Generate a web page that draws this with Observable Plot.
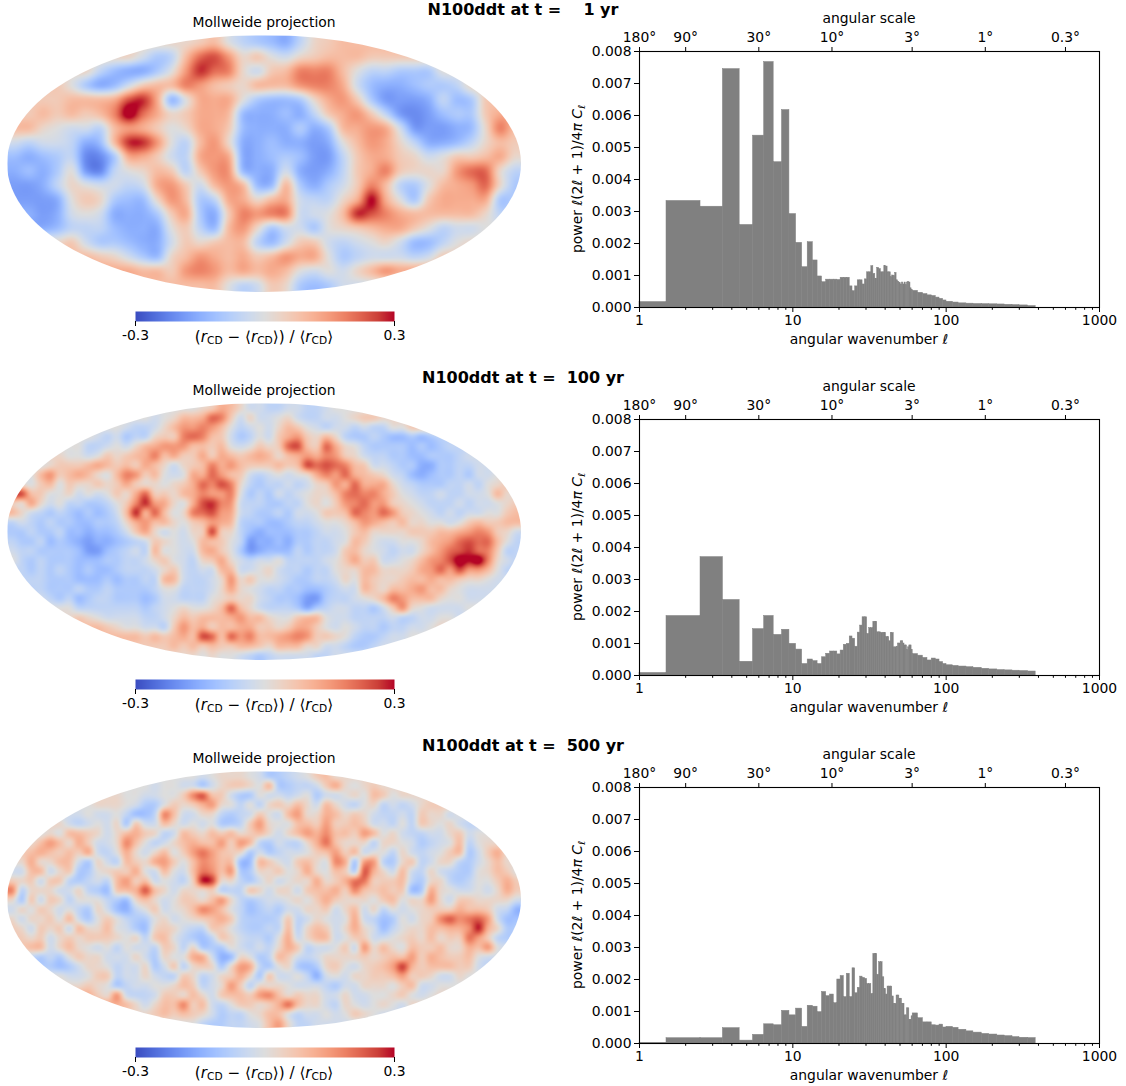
<!DOCTYPE html>
<html><head><meta charset="utf-8">
<script src="https://cdn.jsdelivr.net/npm/d3@7"></script>
<script src="https://cdn.jsdelivr.net/npm/@observablehq/plot@0.6"></script>
<style>
html,body{margin:0;padding:0;background:#fff}
#page{position:relative;width:1126px;height:1086px;overflow:hidden;font-family:"DejaVu Sans",sans-serif;color:#000}
#page>*{position:absolute}
.t{white-space:pre;line-height:1.1}
.t sub{font-size:70%;line-height:0;vertical-align:-0.25em}
</style></head><body><div id="page"></div>
<script>
// ---------- map estimates, in mapUnits steps of (rCD-<rCD>)/<rCD>, rows top to bottom, columns centred
const map1Rows = [
[1,2,3,0,-2,-3,-4,-5,-2,1,2,3],
[1,-1,-3,-2,3,7,8,5,1,2,0,-1,1,2,3,3,3,2,2,2],
[1,-2,-4,-5,-5,-3,0,5,9,7,6,1,-1,2,3,6,6,6,3,0,-2,-2,-3,-3,-3,0],
[2,0,-3,-5,-4,-1,2,3,3,6,5,3,2,1,3,3,3,5,6,6,4,-1,-4,-5,-5,-4,-3,-3,-2,1],
[2,2,3,3,3,4,8,9,4,-4,0,4,4,4,0,-3,-4,-4,-3,1,4,5,2,-3,-6,-6,-6,-5,-2,-4,-3,2],
[2,3,2,3,2,3,6,11,7,4,1,2,4,4,3,-4,-5,-5,-4,-5,-2,2,4,5,2,-2,-6,-7,-6,-4,-3,-3,2,4],
[3,3,1,0,-1,-1,-2,3,5,4,2,0,1,4,4,2,-4,-5,-5,-5,-3,-5,-3,3,4,5,4,-1,-6,-6,-6,-5,-4,1,6,3],
[-1,-2,-1,-1,-2,-5,-4,3,9,9,5,0,-2,3,5,1,-5,-5,-4,-5,-5,-6,-5,0,3,5,4,1,-2,-5,-5,-4,-2,1,3,2],
[-4,-5,-4,-3,-2,-7,-7,-3,4,4,2,-1,-2,4,5,4,-5,-5,-4,-3,-4,-6,-6,-2,2,4,4,2,1,-1,0,2,2,3,4,1],
[-5,-4,-5,-3,0,-6,-7,-2,0,1,3,2,-2,2,5,5,-4,-5,-5,-1,-5,-6,-5,-2,2,4,6,2,1,1,1,5,7,7,1,-2],
[-6,-6,-5,-2,1,0,-1,-1,-2,-1,4,5,2,-1,3,5,3,-4,-4,3,-3,-5,-3,-1,2,6,3,-2,-3,0,3,4,5,7,1,-3],
[-6,-6,-5,0,2,1,-3,-4,-4,1,5,3,-3,-2,4,4,1,3,4,-1,-2,-2,1,4,10,4,0,-3,2,4,4,4,4,-3],
[-5,-6,-5,-1,0,-1,-5,-5,-5,-3,2,4,-3,-5,2,6,5,6,6,-1,-1,0,3,9,8,6,4,3,3,3,3,3,1,-2],
[-5,-4,-2,-2,-2,-4,-5,-5,-5,0,2,-2,-4,3,5,1,-3,-1,-1,-3,0,1,2,3,4,4,2,0,-2,-1,-1,0],
[1,2,-1,-3,-3,-4,-5,-5,-1,2,1,2,3,3,-2,-4,-1,2,2,-1,-2,-1,0,1,-1,-4,-4,-2,0,1],
[3,2,1,-1,-3,-4,1,3,5,4,3,4,2,3,5,4,4,0,-3,-2,-1,-1,-1,-2,-1,2],
[4,3,3,2,5,6,5,3,4,3,4,3,0,-1,0,-1,1,3,5,4],
[3,3,3,0,-2,-1,2,1,-3,-4,-3,-1]
];
const map2Rows = [
[0,1,2,4,3,1,-1,-1,-2,-2,-1,-1,-2,-2,-1,0],
[0,-1,0,1,3,3,4,7,6,2,-1,1,-1,-1,0,1,-1,-2,-2,-1,-1,0,1,2,2,1],
[0,-1,-2,-2,-1,1,3,5,5,6,5,3,0,-2,-1,0,-1,1,3,2,0,-1,-2,-1,-1,-2,-1,-2,-2,0,0,2],
[0,-1,-2,-1,-3,-2,-2,1,2,2,6,7,6,3,2,-1,-3,-2,0,-1,2,4,5,2,1,3,1,-2,-3,-3,-2,-3,-4,-4,-3,-4,-3,-2],
[0,0,-2,-2,-1,0,-1,1,3,4,5,5,5,3,3,2,3,0,-1,0,2,1,2,7,8,3,2,7,4,1,0,-2,-3,-3,-3,-3,-4,-3,-4,-3,-2,-2],
[1,0,0,-1,0,2,1,2,3,4,6,3,4,2,2,4,2,4,3,2,3,4,3,1,3,4,5,4,6,5,2,1,-1,-2,-2,-3,-3,-4,-4,-3,-3,-3,-2,-1],
[0,1,2,2,2,3,4,3,2,3,2,4,3,1,-1,1,2,3,6,4,5,3,2,2,2,3,2,3,8,7,8,7,6,3,2,-1,-1,-2,-3,-3,-5,-5,-3,-3,-2,-2,-1,-1],
[0,3,5,2,3,4,3,1,0,3,6,5,2,3,0,-1,0,4,4,7,5,3,2,-1,-2,-1,0,-1,0,1,4,6,5,7,4,3,2,1,-1,-2,-4,-5,-4,-3,-3,-2,-3,-1,-1,0],
[1,0,2,3,0,2,1,1,2,1,2,4,2,1,1,0,1,2,4,7,6,8,6,1,-2,-3,-2,-2,-1,-2,-1,1,2,5,4,7,4,4,4,1,-1,-2,-3,-3,-3,-2,-2,-1,-2,0,1,2],
[8,3,2,0,0,1,-1,0,-1,0,2,1,4,7,2,2,1,3,4,6,5,5,6,0,-3,-2,-3,-1,-2,-1,0,1,1,3,6,7,6,6,4,2,0,-1,-2,-2,-1,-2,-2,-1,-1,0,3,1],
[2,1,4,1,-1,0,-2,-2,-3,-3,-2,0,2,6,9,5,4,1,0,4,8,9,6,5,-1,-2,-2,-3,-3,-2,-2,0,1,0,2,5,6,7,5,5,2,1,0,-1,-2,-2,-2,-1,-2,-1,-1,0,1,2],
[3,1,-1,-2,-3,-2,-3,-4,-3,-4,-3,-1,3,9,4,7,3,0,1,6,7,8,5,4,-1,-2,-3,-3,-2,-3,-1,-1,0,2,2,3,7,6,5,7,5,2,1,0,-1,-2,-1,-2,-1,-1,0,0,2,3],
[-2,-1,-2,-3,-2,-3,-3,-4,-4,-3,-3,-2,1,4,5,3,3,1,0,2,3,5,4,3,-2,-3,-3,-4,-4,-3,-2,-2,-1,0,0,1,3,5,4,3,2,3,1,1,0,0,-1,0,2,3,2,2,3,3],
[-3,-3,-2,-3,-3,-2,-4,-4,-5,-4,-4,-3,-1,2,4,1,-1,0,-1,1,2,8,2,1,-2,-4,-5,-4,-4,-4,-3,-3,-2,-1,-1,0,2,3,1,1,1,1,2,2,2,3,3,4,5,6,5,2,1,-1],
[-2,-3,-3,-2,-4,-3,-4,-5,-6,-5,-5,-4,-3,-2,-1,2,1,0,-1,0,3,3,2,0,-2,-6,-5,-5,-4,-5,-3,-3,-2,-2,-1,0,3,2,0,-1,-1,0,0,1,3,4,5,7,8,7,7,3,0,-2],
[-1,-2,-2,-3,-3,-3,-3,-4,-6,-6,-4,-3,-2,-1,-2,3,0,0,-1,-1,3,4,2,0,-3,-6,-5,-4,-4,-4,-2,-3,-2,-2,-1,2,3,1,0,-1,-2,-1,-1,1,3,5,7,8,9,7,6,2,-2,-2],
[0,-2,-3,-2,-3,-3,-3,-4,-4,-4,-3,-3,-2,-2,-1,1,2,0,-1,-2,1,2,4,1,-1,-2,-1,-1,0,-2,-2,-2,-2,-1,0,2,4,2,2,-1,-1,0,1,3,5,6,8,11,10,11,6,1,-1,-2],
[-2,-3,-2,-3,-2,-3,-4,-3,-4,-4,-3,-2,-2,-2,-1,1,2,-1,-2,-1,-1,3,3,-1,-1,0,1,-1,-2,-2,-3,-2,-2,0,1,1,3,3,1,1,1,2,4,5,7,5,8,5,5,3,0,-2],
[-2,-2,-2,-3,-3,-3,-4,-4,-4,-3,-4,-3,-3,-2,-2,3,3,-1,-2,-2,-1,1,5,1,2,0,0,-1,-2,-3,-3,-2,-2,-1,1,0,3,2,1,1,2,3,3,4,3,3,2,1,1,0,-1,-1],
[-2,-2,-3,-3,-3,-2,-3,-3,-2,-3,-3,-3,-3,-2,0,0,-2,-2,-2,-1,1,4,1,0,-1,-2,-2,-3,-3,-4,-4,-3,-2,-1,-1,3,2,1,3,3,4,5,3,3,1,0,-1,-1,-1,-1],
[-1,-2,-3,-2,-4,-3,-2,-2,-3,-3,-3,-4,-3,-1,-1,-2,-2,-2,0,1,2,1,1,-1,-2,-3,-3,-4,-6,-6,-3,-2,-2,-1,0,1,3,6,5,3,3,3,1,0,0,-1,-1,-1],
[0,0,-2,-2,-2,-2,-2,-2,-2,-3,-2,-1,0,1,0,0,1,3,7,3,1,-1,-2,-2,-2,-3,-5,-3,-2,-1,-1,-2,-2,-3,-1,2,5,1,0,-1,-1,-1,-1,0],
[1,2,1,0,-1,-1,-1,-1,-2,-2,-1,1,3,2,3,3,3,4,5,3,3,1,0,0,2,3,3,0,-1,-1,-2,-2,-2,-2,-1,-2,-2,-1,-1,0,0,-1],
[3,3,2,1,0,0,-1,-1,-2,2,5,3,4,2,3,3,4,4,2,2,1,2,4,4,2,0,-1,0,-1,-2,-2,-3,-2,-2,-1,-1,0,1],
[3,3,3,2,3,2,3,4,3,8,7,3,7,5,6,3,3,4,5,6,5,2,2,1,0,-2,-3,-3,-2,-1,-1,0],
[2,2,2,3,2,3,2,3,2,2,3,3,2,1,3,3,3,1,1,-1,-1,-2,-3,-3,-2,-1],
[1,0,1,0,0,-1,-2,-3,-2,-1,-1,-1,-1,-2,-2,-1]
];
const map3Rows = [
[0,-1,0,1,1,1,0,-1,-3,-3,-2,-1,0,2,3,1],
[0,-1,0,0,-1,-1,-3,-1,1,2,2,1,0,3,-3,-3,-2,-2,-1,2,4,1,0,1,2,1],
[1,0,0,-1,-1,0,0,2,6,8,3,2,-1,-3,-3,0,-1,-1,-2,-1,0,-3,-1,-1,0,1,0,3,2,0,1,1],
[0,1,1,1,0,-1,-3,-3,0,2,1,2,4,5,1,0,-2,0,-2,1,2,1,3,1,-1,3,1,-1,-2,0,1,-2,-1,-2,-1,1,2,2],
[-1,-1,0,-1,-1,0,-2,-4,-4,-2,6,3,-1,-1,1,1,-2,-3,-2,-1,2,0,-1,3,5,1,1,4,3,1,2,1,-1,-2,-2,-1,-2,2,1,1,-1,0],
[1,-1,-2,-1,0,-1,1,-3,2,-1,-1,3,1,-1,0,-1,0,-3,-3,-2,2,5,1,0,0,3,3,2,5,2,2,3,2,-1,-1,-2,0,-2,2,1,0,1,-1,-2],
[0,1,0,3,3,2,1,-1,1,3,4,2,1,-2,-1,3,2,1,3,2,3,1,2,3,1,-1,1,3,5,4,6,3,3,2,5,3,0,1,-1,-2,-2,-1,-1,1,2,-1,0,0],
[1,3,5,3,1,4,2,-1,-1,1,6,3,0,-2,-1,1,3,4,3,3,5,2,5,3,-2,-3,-1,-2,-2,1,4,7,3,1,1,1,-2,1,1,0,-1,-3,-2,-1,0,3,-2,0,1,1],
[2,3,4,3,2,3,2,4,-1,-2,0,4,1,-1,1,3,0,2,5,7,5,3,2,1,-3,-1,-3,-2,-1,-1,0,2,3,5,2,3,-1,0,0,-2,1,-1,-2,-1,0,2,3,-3,-1,2,4,1],
[1,4,1,1,3,3,-1,-3,1,-1,-2,3,2,1,4,5,2,0,3,6,5,3,3,-4,-4,3,2,0,-1,2,3,1,0,6,4,-3,5,5,-2,-3,1,2,-2,-1,1,1,-2,-3,-1,1,3,1],
[-1,-1,3,3,-1,1,2,-3,-3,0,1,2,2,4,0,-1,3,0,-1,3,7,6,3,5,-3,-3,1,1,2,0,1,4,1,0,3,2,-2,8,4,1,-1,3,-1,-2,1,-1,-2,-3,-3,0,1,3,2,0],
[2,1,2,-1,2,2,-2,-3,-2,-1,-2,3,5,2,3,-1,0,-1,-2,2,10,9,1,1,-2,-3,-1,1,-1,0,1,1,4,1,2,4,7,7,2,2,2,3,-2,-3,1,1,-2,-3,-2,0,0,2,4,2],
[6,-2,1,1,1,-1,-1,1,-2,-3,-4,2,3,4,8,3,1,-1,1,1,1,2,-2,-2,-2,2,1,-1,1,1,-1,2,3,3,4,2,6,3,2,3,2,2,-4,-3,4,1,0,-1,-1,0,-1,1,4,2],
[1,-3,2,-1,2,1,-2,0,0,0,-2,-3,-4,1,3,1,-1,0,2,2,1,3,5,1,-2,-3,-2,-1,-1,0,1,0,2,4,2,1,1,1,0,2,3,0,1,1,5,1,-1,2,2,1,1,1,1,-1],
[-1,1,0,2,1,-1,0,-2,-3,1,-1,-4,-5,-2,0,2,-1,0,1,3,6,5,3,0,-2,-4,-3,-2,-3,-1,-1,1,1,2,-1,1,3,-1,1,-2,0,-1,0,1,2,2,2,4,3,3,2,-1,-2,-5],
[1,-1,1,1,2,0,3,-1,-3,0,2,0,-2,-3,-3,0,1,-1,0,1,2,3,4,2,-2,-3,-3,-3,-2,2,-2,-1,1,0,-1,0,4,-1,-2,-4,-3,0,-1,1,2,6,8,6,7,8,5,-1,-4,-4],
[2,1,-1,2,1,2,-1,3,1,1,3,0,-1,-3,-4,1,2,1,-1,-2,-2,2,2,0,-2,-3,-3,-2,-2,3,-2,1,3,2,-1,1,4,1,-1,-4,-2,0,1,1,3,3,4,4,6,10,4,1,-3,-3],
[2,1,2,-1,1,2,1,2,2,2,1,0,1,-2,2,3,0,-2,-3,-4,-2,2,1,-1,-2,-2,-3,0,4,-1,1,3,3,-1,0,2,2,-1,-1,0,1,2,1,3,1,2,2,7,5,2,-2,-3],
[2,3,3,-1,1,3,1,0,-1,0,-2,0,-1,-1,-2,2,1,-2,1,-3,-3,-3,0,-1,-2,-1,-2,1,4,2,-2,-1,-1,0,2,-1,5,1,3,1,0,3,2,2,3,1,1,4,3,5,0,-1],
[-2,-3,-2,-3,0,2,1,1,-1,-1,-1,1,-1,-3,1,0,0,4,4,-1,-5,-4,1,0,-3,-2,3,2,-1,-2,-1,1,1,1,1,2,1,2,3,3,5,2,4,3,2,2,3,0,-1,-1],
[-3,-3,-4,-3,-1,1,1,0,-2,-1,-1,1,-3,-1,2,-2,1,2,1,-3,1,5,4,-2,-3,0,1,-3,-4,-3,1,2,0,-1,1,2,3,5,9,4,2,3,3,3,2,2,-1,-2],
[0,-1,-1,0,2,2,-2,-1,-1,1,-1,-2,-2,2,1,-2,-1,1,2,4,1,-3,2,-1,-1,0,-2,-5,-1,0,-1,1,1,2,2,3,5,2,2,1,-1,-1,1,0],
[1,1,2,1,0,-3,-2,-1,-1,0,0,1,3,2,-2,-1,1,5,2,-2,1,1,1,0,-1,-1,-1,-2,-3,-1,-1,1,1,1,0,2,3,-1,-1,0,0,0],
[4,2,1,5,-1,-2,-2,-1,2,2,1,3,1,-1,2,3,3,2,5,6,3,1,2,1,1,-1,-1,1,-1,-1,0,0,1,2,0,-1,0,1],
[4,3,1,-1,1,3,3,6,2,3,-1,-2,0,2,2,1,2,4,7,3,1,1,-1,-2,1,0,-1,0,1,0,-1,1],
[1,2,3,2,3,2,1,-1,-3,-2,-2,0,1,3,3,0,-2,-1,-1,0,-1,0,2,1,0,-1],
[0,-2,-3,-3,-2,-2,-1,0,3,5,1,-2,-2,-1,-1,-1]
];
const mapUnits = [0.03,0.03,0.028];

// ---------- power spectra, in units of 0.001, l = 1..60 one by one, then wider tail bins
const tailEdges = [65.5,70.5,75.5,80.5,85.5,90.5,95.5,100.5,110.5,120.5,135.5,150.5,170.5,190.5,215.5,240.5,270.5,300.5,340.5,383.5];
const power1 = [.17,3.33,3.15,7.45,2.58,5.37,7.67,4.54,6.17,2.92,2.02,1.26,2.04,1.47,.97,.79,.87,.87,.87,.86,.93,.93,.93,.66,.51,.66,.85,.85,.72,.88,1.1,1.1,1.29,1.05,.9,1.24,1.2,1.1,1.1,1.29,1.28,1.1,1.1,.95,1.0,.98,1.08,.85,.8,.76,.72,.78,.72,.78,.7,.78,.79,.78,.6,.55,
 .52,.46,.42,.38,.36,.31,.27,.22,.18,.155,.13,.12,.11,.105,.1,.095,.085,.075,.065,.045];
const power2 = [.08,1.86,3.70,2.36,.43,1.45,1.86,1.27,1.43,.99,.81,.36,.5,.45,.36,.57,.68,.75,.75,.66,.78,.96,.99,1.22,1.15,.9,1.34,1.56,1.82,1.82,1.3,1.48,1.48,1.68,1.68,1.35,1.35,1.33,1.33,1.33,1.2,1.2,1.07,1.33,1.33,.88,.88,.9,1.0,1.0,1.07,1.07,1.0,.94,.94,.8,.88,.94,.94,.8,
 .67,.62,.55,.47,.53,.5,.42,.36,.32,.30,.28,.26,.24,.21,.19,.17,.16,.15,.14,.125];
const power3 = [.02,.165,.165,.48,.09,.27,.6,.57,1.02,.88,1.09,.52,1.18,1.15,.98,1.61,1.48,1.53,1.26,2.0,2.11,1.45,2.18,1.45,2.35,1.57,1.74,2.09,2.05,2.02,1.86,1.86,1.55,2.8,2.8,2.15,2.54,2.54,2.07,1.7,1.53,1.78,1.78,1.78,1.47,1.24,1.24,1.5,1.5,1.4,1.4,1.24,1.24,.88,.88,1.1,1.1,.74,.74,.85,
 .94,.79,.66,.66,.57,.56,.59,.5,.52,.49,.43,.38,.34,.3,.28,.25,.23,.2,.18,.17];

// ---------- axes and labels
const wavenumberTicks = [1,10,100,1000];
const minorTicks = [2,3,4,5,6,7,8,9,20,30,40,50,60,70,80,90,200,300,400,500,600,700,800,900];
const scaleTicks = [1,2,6,18,60,180,600];
const scaleLabels = ["180°","90°","30°","10°","3°","1°","0.3°"];
const powerTicks = [0,.001,.002,.003,.004,.005,.006,.007,.008];
const titles = ["N100ddt at t =    1 yr","N100ddt at t =  100 yr","N100ddt at t =  500 yr"];
const powers = [power1,power2,power3];
const mapRows = [map1Rows,map2Rows,map3Rows];

// coolwarm colour table
const cwStops = [-.3,-.2625,-.225,-.1875,-.15,-.1125,-.075,-.0375,0,.0375,.075,.1125,.15,.1875,.225,.2625,.3];
const cwColors = ["#3b4cc0","#4d68d7","#6282ea","#779af7","#8db0fe","#a3c2ff","#b8d0f9","#ccd9ee","#dddddd","#ecd3c5","#f5c4ad","#f7b194","#f49a7b","#ec7f63","#de604d","#cb3e38","#b40426"];
const colorScale = {type:"linear",domain:cwStops,range:cwColors,clamp:true};

const page = document.getElementById("page");
const fontCss = {fontFamily:"'DejaVu Sans',sans-serif",fontSize:"13.9px",background:"transparent"};

function text(html,cx,cy,{size=13.9,weight="normal",rotate=0,lineHeight=null}={}){
  const d=document.createElement("div");
  d.className="t";
  d.innerHTML=html;
  Object.assign(d.style,{left:cx+"px",top:cy+"px",fontSize:size+"px",fontWeight:weight,
    transform:`translate(-50%,-50%) rotate(${rotate}deg)`});
  if(lineHeight) d.style.lineHeight=lineHeight;
  page.appendChild(d);
}
function place(svg,left,top){svg.style.left=left+"px";svg.style.top=top+"px";svg.style.margin="0";page.appendChild(svg);}

function toGrid(rows){
  const W=d3.max(rows,r=>r.length);
  return rows.map(r=>{
    const off=Math.floor((W-r.length)/2);
    return d3.range(W).map(i=>r[Math.max(0,Math.min(r.length-1,i-off))]);
  });
}
function cubic(a,b,c,d,t){return b+0.5*t*(c-a+t*(2*a-5*b+4*c-d+t*(3*(b-c)+d-a)));}
function sampler(grid,unit){
  const H=grid.length,W=grid[0].length;
  const at=(j,i)=>grid[Math.max(0,Math.min(H-1,j))][Math.max(0,Math.min(W-1,i))];
  return function(x,y){
    const fx=x-.5,fy=y-.5,i=Math.floor(fx),j=Math.floor(fy),u=fx-i,v=fy-j;
    const r=[-1,0,1,2].map(dj=>cubic(at(j+dj,i-1),at(j+dj,i),at(j+dj,i+1),at(j+dj,i+2),u));
    return cubic(r[0],r[1],r[2],r[3],v)*unit;
  };
}

titles.forEach((title,k)=>{
  const dy=368*k;
  text(title,523,9.5+dy,{size:16,weight:"bold",lineHeight:"1.15"});
  text("Mollweide projection",264,22.7+dy);

  // Mollweide map
  const grid=toGrid(mapRows[k]);
  const W=grid[0].length,H=grid.length;
  const f=sampler(grid,mapUnits[k]);
  const map=Plot.plot({width:514,height:257,margin:0,
    style:{...fontCss,clipPath:"ellipse(50% 50% at 50% 50%)"},
    x:{domain:[0,W],axis:null},y:{domain:[H,0],axis:null},color:colorScale,
    marks:[Plot.raster({x1:0,x2:W,y1:0,y2:H,fill:(x,y)=>f(x,y)})]});
  place(map,7,35+dy);

  // colour bar
  const bar=Plot.plot({width:319,height:36,marginLeft:30,marginRight:30,marginTop:0,marginBottom:26,
    style:fontCss,
    x:{domain:[-.3,.3]},y:{domain:[0,1],axis:null},color:colorScale,
    marks:[Plot.raster({x1:-.3,x2:.3,y1:0,y2:1,fill:(x,y)=>x}),
      Plot.axisX({ticks:[-.3,.3],tickFormat:d=>d<0?"-0.3":"0.3",tickSize:5,tickPadding:4,label:null})]});
  place(bar,105,311+dy);
  text("(<i>r</i><sub>CD</sub> − ⟨<i>r</i><sub>CD</sub>⟩) / ⟨<i>r</i><sub>CD</sub>⟩",264,337+dy,{size:15.2});

  // power spectrum
  const edges=[1,...d3.range(1.5,61,1),...tailEdges];
  const bars=powers[k].map((v,i)=>({l0:edges[i],l1:edges[i+1],p:v/1000}));
  const hist=Plot.plot({width:566,height:360,marginLeft:79,marginRight:27,marginTop:51,marginBottom:53,
    style:fontCss,
    x:{type:"log",domain:[1,1000]},y:{domain:[0,.008]},
    marks:[
      Plot.rectY(bars,{x1:"l0",x2:"l1",y:"p",fill:"#808080",stroke:"#808080",strokeWidth:0.5}),
      Plot.frame({stroke:"#000",strokeWidth:1.1}),
      Plot.axisX({anchor:"bottom",ticks:wavenumberTicks,tickFormat:d=>String(d),tickSize:5,tickPadding:3,label:null}),
      Plot.axisX({anchor:"bottom",ticks:minorTicks,tickFormat:()=>"",tickSize:2.8,label:null}),
      Plot.axisX({anchor:"top",ticks:scaleTicks,tickFormat:()=>"",tickSize:5,label:null}),
      Plot.text(scaleTicks,{x:d=>d,text:(d,i)=>scaleLabels[i],frameAnchor:"top",lineAnchor:"bottom",dy:-10,fontSize:13.9}),
      Plot.axisY({ticks:powerTicks,tickFormat:d=>d.toFixed(3),tickSize:5,tickPadding:3,label:null})
    ]});
  place(hist,560,dy);
  text("angular scale",869,19+dy);
  text("angular wavenumber <i>ℓ</i>",869,339.5+dy);
  text("power <i>ℓ</i>(2<i>ℓ</i> + 1)/4<i>π</i> <i>C</i><sub><i>ℓ</i></sub>",578,179+dy,{rotate:-90});
});
</script></body></html>
